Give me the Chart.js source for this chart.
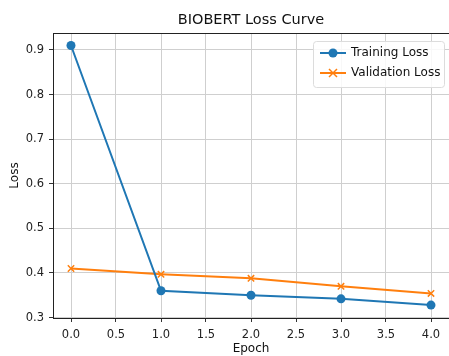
<!DOCTYPE html>
<html>
<head>
<meta charset="utf-8">
<script src="https://cdn.jsdelivr.net/npm/chart.js@4.4.0/dist/chart.umd.min.js"></script>
<style>
html,body{margin:0;padding:0;background:#fff;}
#wrap{width:449px;height:356px;position:relative;}
</style>
</head>
<body>
<div id="wrap"><canvas id="c" width="449" height="356"></canvas></div>
<script>
const epochs = [0, 1, 2, 3, 4];
const trainingLoss = [0.91, 0.360, 0.350, 0.342, 0.328];
const validationLoss = [0.410, 0.397, 0.388, 0.370, 0.354];
const xTicks = [0, 0.5, 1, 1.5, 2, 2.5, 3, 3.5, 4];
const yTicks = [0.3, 0.4, 0.5, 0.6, 0.7, 0.8, 0.9];
const titleText = 'BIOBERT Loss Curve';
const seriesNames = ['Training Loss', 'Validation Loss'];

const FONT = 'DejaVu Sans';
const blue = '#1f77b4', orange = '#ff7f0e';

const decor = {
  id: 'decor',
  afterDraw(chart) {
    const ctx = chart.ctx, a = chart.chartArea;
    ctx.save();
    // top spine
    ctx.strokeStyle = '#222';
    ctx.lineWidth = 1;
    ctx.beginPath();
    ctx.moveTo(a.left, a.top + 0.5);
    ctx.lineTo(a.right, a.top + 0.5);
    ctx.stroke();
    // title
    ctx.fillStyle = '#111';
    ctx.font = '14.5px ' + FONT;
    ctx.textAlign = 'center';
    ctx.textBaseline = 'middle';
    ctx.fillText(titleText, (a.left + a.right) / 2, 20);
    // legend
    const bx = 313, by = 41, bw = 131, bh = 46;
    ctx.fillStyle = 'rgba(255,255,255,0.85)';
    ctx.strokeStyle = '#dcdcdc';
    ctx.lineWidth = 1;
    ctx.beginPath();
    ctx.roundRect(bx + 0.5, by + 0.5, bw, bh, 3);
    ctx.fill();
    ctx.stroke();
    const rows = [by + 12, by + 32];
    const colors = [blue, orange];
    rows.forEach((yy, i) => {
      ctx.strokeStyle = colors[i];
      ctx.lineWidth = 2;
      ctx.beginPath();
      ctx.moveTo(bx + 7, yy);
      ctx.lineTo(bx + 33, yy);
      ctx.stroke();
      const cx = bx + 20;
      if (i === 0) {
        ctx.fillStyle = blue;
        ctx.beginPath();
        ctx.arc(cx, yy, 4.5, 0, Math.PI * 2);
        ctx.fill();
      } else {
        ctx.lineWidth = 1.5;
        ctx.beginPath();
        ctx.moveTo(cx - 4, yy - 4); ctx.lineTo(cx + 4, yy + 4);
        ctx.moveTo(cx - 4, yy + 4); ctx.lineTo(cx + 4, yy - 4);
        ctx.stroke();
      }
      ctx.fillStyle = '#111';
      ctx.font = '12px ' + FONT;
      ctx.textAlign = 'left';
      ctx.textBaseline = 'middle';
      ctx.fillText(seriesNames[i], bx + 38, yy);
    });
    ctx.restore();
  }
};

new Chart(document.getElementById('c'), {
  type: 'line',
  data: {
    datasets: [
      {
        label: seriesNames[0],
        data: epochs.map((e, i) => ({x: e, y: trainingLoss[i]})),
        borderColor: blue, backgroundColor: blue,
        borderWidth: 2, pointStyle: 'circle', pointRadius: 4.5,
        pointBorderWidth: 0, tension: 0, clip: false
      },
      {
        label: seriesNames[1],
        data: epochs.map((e, i) => ({x: e, y: validationLoss[i]})),
        borderColor: orange, backgroundColor: orange,
        borderWidth: 2, pointStyle: 'crossRot', pointRadius: 4.5,
        pointBorderWidth: 1.5, tension: 0, clip: false
      }
    ]
  },
  options: {
    responsive: false,
    animation: false,
    layout: { autoPadding: false, padding: { top: 33, right: 0, left: 0, bottom: 0 } },
    plugins: { legend: { display: false }, title: { display: false }, tooltip: { enabled: false } },
    scales: {
      x: {
        type: 'linear', min: -0.2, max: 4.2,
        afterBuildTicks: s => { s.ticks = xTicks.map(v => ({value: v})); },
        afterFit: s => { s.height = 38; s.paddingLeft = 0; s.paddingRight = 0; },
        grid: { color: '#cfcfcf', lineWidth: 1, drawTicks: true, tickLength: 4, tickColor: '#333' },
        border: { display: true, color: '#222', width: 1 },
        ticks: { font: { family: FONT, size: 11.5 }, color: '#222', padding: 6,
          callback: v => Number(v).toFixed(1), maxRotation: 0, autoSkip: false },
        title: { display: true, text: 'Epoch', font: { family: FONT, size: 12 }, color: '#111', padding: { top: 3, bottom: 0 } }
      },
      y: {
        type: 'linear', min: 0.299, max: 0.938,
        afterBuildTicks: s => { s.ticks = yTicks.map(v => ({value: v})); },
        afterFit: s => { s.width = 53; },
        grid: { color: '#cfcfcf', lineWidth: 1, drawTicks: true, tickLength: 4, tickColor: '#333' },
        border: { display: true, color: '#222', width: 1 },
        ticks: { font: { family: FONT, size: 11.5 }, color: '#222', padding: 5,
          callback: v => Number(v).toFixed(1), autoSkip: false },
        title: { display: true, text: 'Loss', font: { family: FONT, size: 12 }, color: '#111', padding: { top: 8, bottom: 0 } }
      }
    }
  },
  plugins: [decor]
});
</script>
</body>
</html>
